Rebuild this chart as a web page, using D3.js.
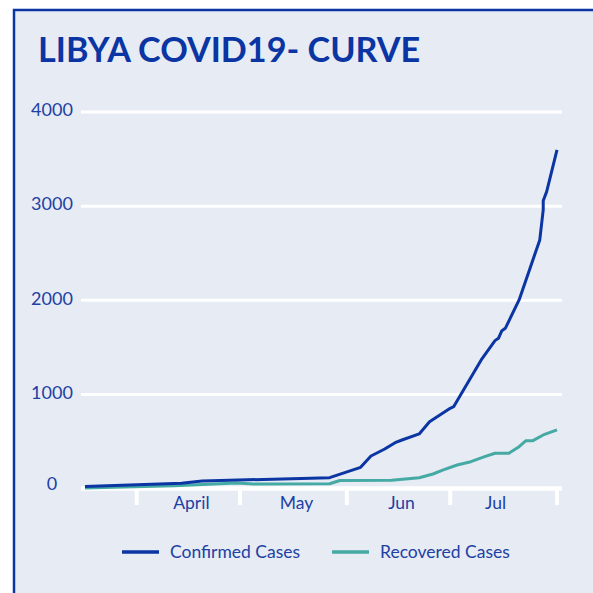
<!DOCTYPE html>
<html>
<head>
<meta charset="utf-8">
<script src="https://cdn.jsdelivr.net/npm/d3@7"></script>
<style>
  html, body { margin: 0; padding: 0; background: #ffffff; }
  svg { display: block; }
  text { font-family: Lato, "Open Sans", sans-serif; }
</style>
</head>
<body>
<div id="chart"></div>
<script>
// ---- data ----
const titleText = "LIBYA COVID19- CURVE";
const seriesNames = ["Confirmed Cases", "Recovered Cases"];
const confirmedDates = ["2020-03-17","2020-04-14","2020-04-20","2020-05-27","2020-06-05","2020-06-08","2020-06-12","2020-06-15","2020-06-17","2020-06-22","2020-06-25","2020-06-28","2020-07-01","2020-07-02","2020-07-04","2020-07-10","2020-07-14","2020-07-15","2020-07-16","2020-07-17","2020-07-21","2020-07-24","2020-07-27","2020-07-28","2020-07-28","2020-07-29","2020-08-01"];
const confirmedCases = [20,55,80,115,225,345,420,487,515,580,710,781,852,869,994,1366,1571,1596,1677,1702,2003,2322,2641,2960,3058,3154,3597];
const recoveredDates = ["2020-03-17","2020-04-12","2020-04-30","2020-05-05","2020-05-27","2020-05-30","2020-06-14","2020-06-22","2020-06-26","2020-06-29","2020-07-03","2020-07-07","2020-07-11","2020-07-14","2020-07-18","2020-07-21","2020-07-23","2020-07-25","2020-07-28","2020-08-01"];
const recoveredCases = [5,30,58,48,50,85,88,115,154,197,250,285,338,374,374,444,508,508,569,622];
const yTicks = [0,1000,2000,3000,4000];
const monthTicks = ["2020-04-01","2020-05-01","2020-06-01","2020-07-01","2020-08-01"];
const monthLabels = ["April","May","Jun","Jul"];

// ---- drawing ----
const W = 593, H = 593;
const blue = "#0a35a3", teal = "#45aaa4", txt = "#2040a4", bg = "#e7ebf4";
const parse = d3.utcParse("%Y-%m-%d");

const svg = d3.select("#chart").append("svg").attr("width", W).attr("height", H);
svg.append("rect").attr("width", W).attr("height", H).attr("fill", "#ffffff");
svg.append("rect").attr("x", 14).attr("y", 10).attr("width", W).attr("height", H)
  .attr("fill", bg).attr("stroke", blue).attr("stroke-width", 2.5);

svg.append("text").attr("x", 38).attr("y", 62).text(titleText)
  .attr("font-size", 34.2).attr("font-weight", 700).attr("fill", blue);

const x = d3.scaleUtc().domain([parse(confirmedDates[0]), parse(confirmedDates[confirmedDates.length-1])]).range([85, 557]);
const y = d3.scaleLinear().domain([0, 4000]).range([488.5, 112]);
const plotL = 81, plotR = 562;

// gridlines
svg.append("g").selectAll("line").data(yTicks.filter(v => v > 0)).join("line")
  .attr("x1", plotL).attr("x2", plotR).attr("y1", d => y(d)).attr("y2", d => y(d))
  .attr("stroke", "#ffffff").attr("stroke-width", 3);

// y labels
svg.append("g").selectAll("text").data(yTicks).join("text")
  .attr("x", 52).attr("y", d => y(d) - (d === 0 ? 5 : 2)).attr("dy", "0.35em")
  .attr("text-anchor", "middle").attr("font-size", 18).attr("fill", txt)
  .text(d => d3.format("d")(d));

// x baseline and ticks
svg.append("line").attr("x1", plotL).attr("x2", plotR).attr("y1", y(0)).attr("y2", y(0))
  .attr("stroke", "#ffffff").attr("stroke-width", 4.5);
const mt = monthTicks.map(parse);
svg.append("g").selectAll("line").data(mt).join("line")
  .attr("x1", d => x(d)).attr("x2", d => x(d)).attr("y1", y(0)).attr("y2", 505)
  .attr("stroke", "#ffffff").attr("stroke-width", 4);
svg.append("g").selectAll("text").data(monthLabels).join("text")
  .attr("x", (d, i) => (x(mt[i]) + x(mt[i+1])) / 2 + (i === 3 ? -8 : 3)).attr("y", 509)
  .attr("text-anchor", "middle").attr("font-size", 17.5).attr("fill", txt).text(d => d);

// lines
const line = d3.line().x(d => x(d[0])).y(d => y(d[1]));
const recData = recoveredDates.map((d, i) => [parse(d), recoveredCases[i]]);
const conData = confirmedDates.map((d, i) => [parse(d), confirmedCases[i]]);
svg.append("path").datum(recData).attr("d", line).attr("fill", "none")
  .attr("stroke", teal).attr("stroke-width", 3).attr("stroke-linejoin", "round");
svg.append("path").datum(conData).attr("d", line).attr("fill", "none")
  .attr("stroke", blue).attr("stroke-width", 3).attr("stroke-linejoin", "round");

// legend
const legX = [122, 332], legColors = [blue, teal];
const leg = svg.append("g").selectAll("g").data(seriesNames).join("g")
  .attr("transform", (d, i) => `translate(${legX[i]},552)`);
leg.append("line").attr("x1", 0).attr("x2", 37).attr("stroke", (d, i) => legColors[i]).attr("stroke-width", 3.5);
leg.append("text").attr("x", 48).attr("dy", "0.35em").attr("font-size", 17.5).attr("fill", txt).text(d => d);
</script>
</body>
</html>
